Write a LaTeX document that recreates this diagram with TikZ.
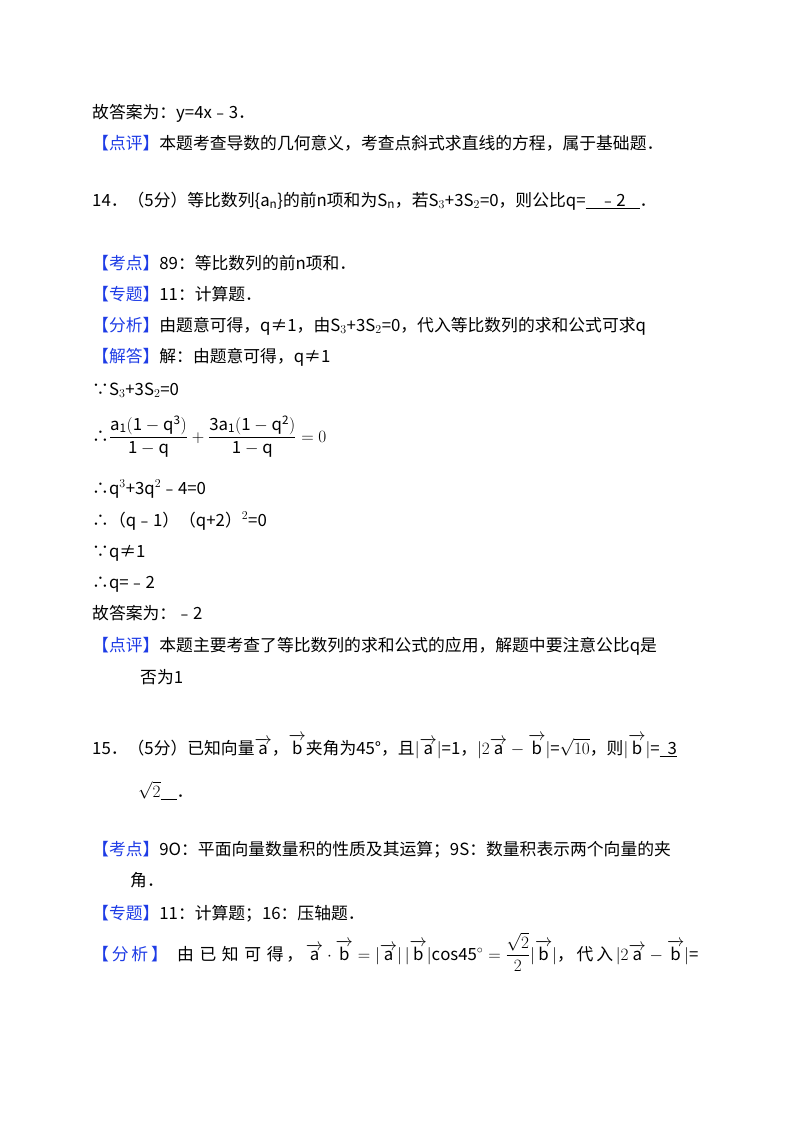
\documentclass[tikz,border=0pt]{standalone}
\usepackage{fontspec}
\usepackage{amsmath}
\setmainfont{Noto Sans CJK SC}
\definecolor{kb}{RGB}{30,60,230}
\newcommand{\tg}[1]{\textcolor{kb}{【#1】}}
\newcommand{\ul}[1]{\underline{#1}}
\newcommand{\va}{\overrightarrow{\mathrm{a}}}
\newcommand{\vb}{\overrightarrow{\mathrm{b}}}
\begin{document}
\begin{tikzpicture}[x=1pt,y=-1pt,
  ln/.style={anchor=base west,inner sep=0pt,font=\fontsize{16.8}{19}\selectfont}]
\useasboundingbox[fill=white] (0,0) rectangle (800,1133);
\node[ln] (l1) at (92,118) {故答案为：y=4x﹣3．};
\node[ln] (l2) at (92,149) {\tg{点评}本题考查导数的几何意义，考查点斜式求直线的方程，属于基础题．};
\node[ln] (l3) at (92,206) {14．（5分）等比数列\{a$_\text{n}$\}的前n项和为S$_\text{n}$，若S$_3$+3S$_2$=0，则公比q=\ul{\hspace{14pt}﹣2\hspace{14pt}}．};
\node[ln] (l4) at (92,269) {\tg{考点}89：等比数列的前n项和．};
\node[ln] (l5) at (92,300) {\tg{专题}11：计算题．};
\node[ln] (l6) at (92,331) {\tg{分析}由题意可得，q≠1，由S$_3$+3S$_2$=0，代入等比数列的求和公式可求q};
\node[ln] (l7) at (92,362) {\tg{解答}解：由题意可得，q≠1};
\node[ln] (l8) at (92,395) {∵S$_3$+3S$_2$=0};
\node[ln] (l9) at (92,442) {∴$\dfrac{\mathrm{a_1(1-q^3)}}{\mathrm{1-q}}+\dfrac{\mathrm{3a_1(1-q^2)}}{\mathrm{1-q}}=0$};
\node[ln] (l10) at (92,494) {∴q$^3$+3q$^2$﹣4=0};
\node[ln] (l11) at (92,526) {∴（q﹣1）（q+2）$^2$=0};
\node[ln] (l12) at (92,557) {∵q≠1};
\node[ln] (l13) at (92,588) {∴q=﹣2};
\node[ln] (l14) at (92,619) {故答案为：﹣2};
\node[ln] (l15) at (92,651) {\tg{点评}本题主要考查了等比数列的求和公式的应用，解题中要注意公比q是};
\node[ln] (l16) at (140,683) {否为1};
\node[ln] (l17) at (92,754) {15．（5分）已知向量$\va$，$\vb$夹角为45°，且$|\va|$=1，$|2\va-\vb|$=$\sqrt{10}$，则$|\vb|$=\ul{\hspace{8pt}3}};
\node[ln] (l18) at (138,797) {$\sqrt{2}$\ul{\hspace{16pt}}．};
\node[ln] (l19) at (92,855) {\tg{考点}9O：平面向量数量积的性质及其运算；9S：数量积表示两个向量的夹};
\node[ln] (l20) at (130,886) {角．};
\node[ln] (l21) at (92,919) {\tg{专题}11：计算题；16：压轴题．};
\node[ln] (l22) at (92,960) {\textcolor{kb}{【\,分\,析\,】}\,\, 由\,\,已\,\,知\,\,可\,\,得\,，\,$\va\cdot\vb=|\va|\,|\vb|\mathrm{cos45^\circ}=\dfrac{\sqrt2}{2}|\vb|$，\,代\,入\,$|2\va-\vb|$=};
\end{tikzpicture}
\end{document}
